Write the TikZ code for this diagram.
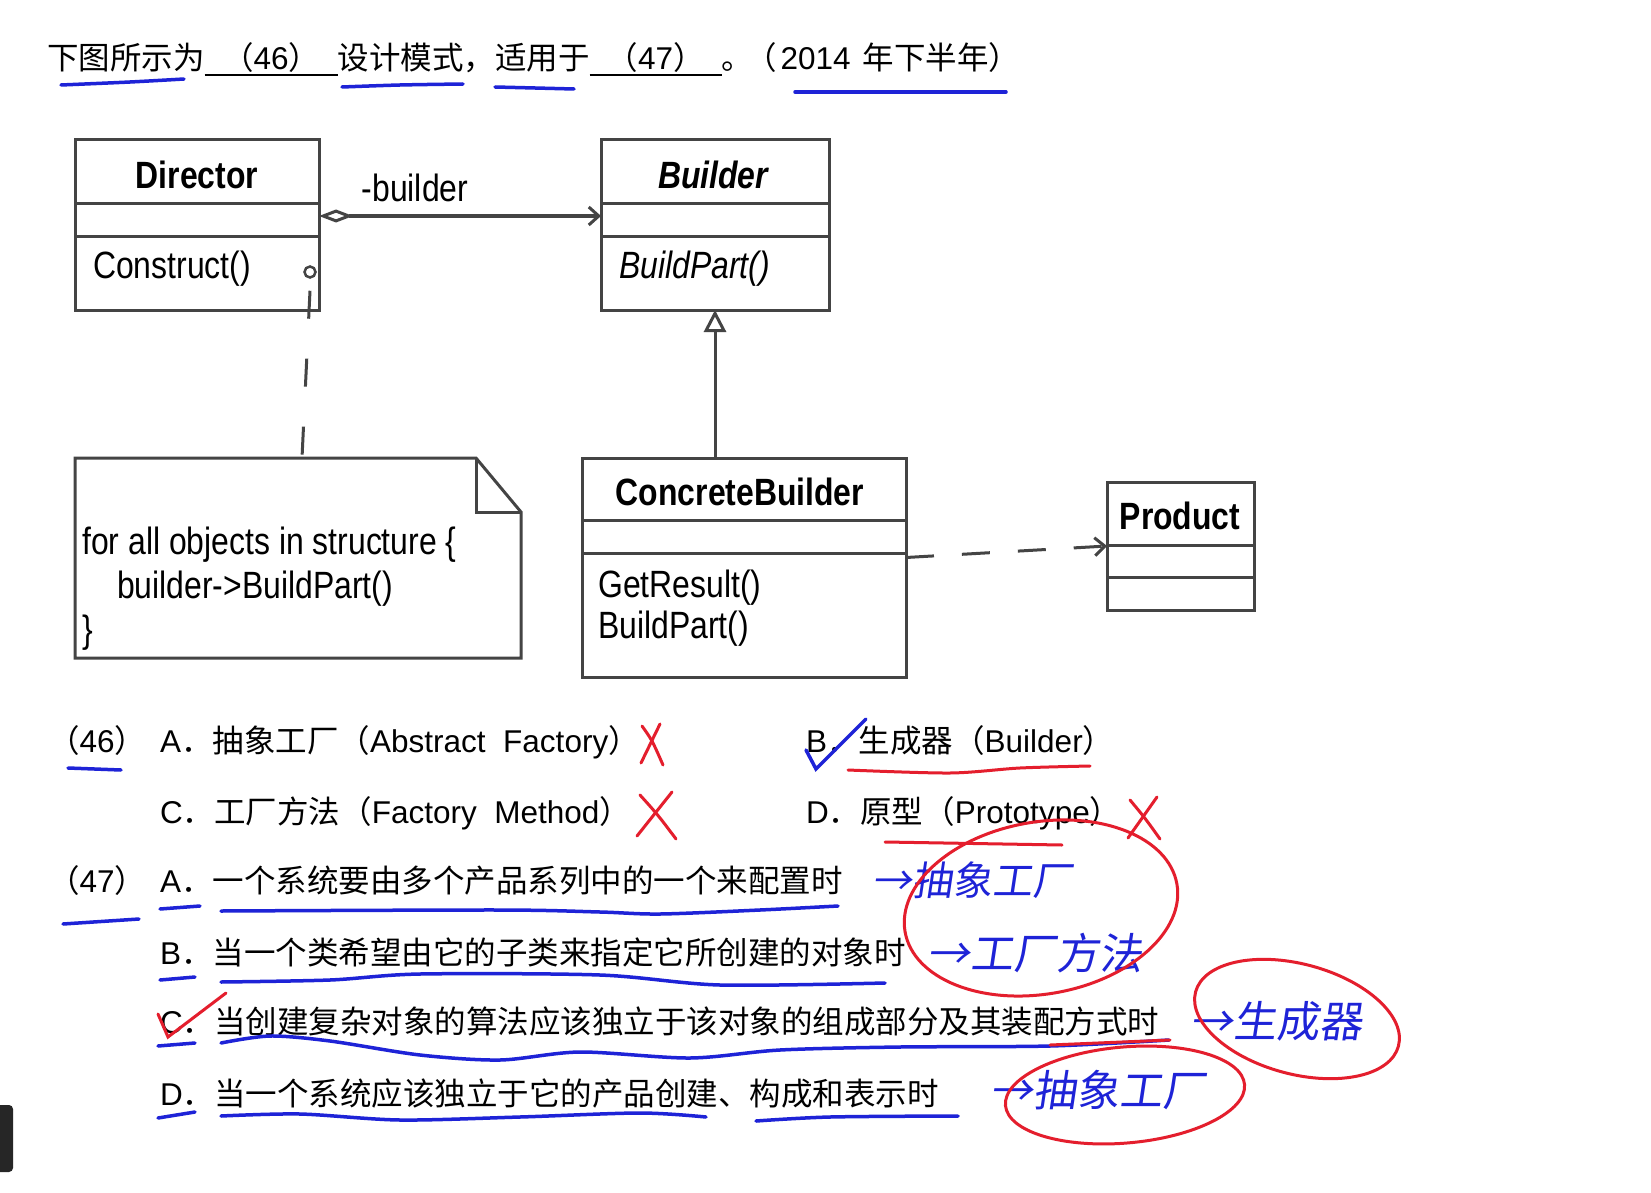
\documentclass[tikz,border=0pt]{standalone}
\usepackage{fontspec}
\usepackage{graphicx}
\setmainfont{Liberation Sans}
\newfontfamily\cjk{Noto Sans CJK SC}
\newfontfamily\hand[FakeSlant=0.15]{Noto Sans CJK SC}
\usetikzlibrary{arrows.meta}

\definecolor{umlgray}{RGB}{68,68,68}
\definecolor{penblue}{RGB}{30,35,215}
\definecolor{penred}{RGB}{228,30,45}

\newcommand\zhtext[1]{{\cjk #1}}
\newcommand\umltext[1]{\scalebox{0.84}[1]{#1}}
\newcommand\fillblank[2]{\rlap{\rule[-6pt]{#1}{2pt}}\makebox[#1]{#2}}

\tikzset{
  umlbox/.style={draw=umlgray, line width=3pt, rectangle, inner sep=0pt, outer sep=0pt, anchor=north west},
  umlsep/.style={draw=umlgray, line width=3pt},
  umlline/.style={draw=umlgray, line width=3pt},
  umlname/.style={font=\fontsize{38}{42}\selectfont\bfseries, inner sep=0pt},
  umlop/.style={font=\fontsize{38}{42}\selectfont, inner sep=0pt, anchor=west},
  qtext/.style={font=\fontsize{31.5}{36}\selectfont, inner sep=0pt, anchor=base west},
  handtext/.style={font=\fontsize{40}{44}\hand, text=penblue, inner sep=0pt, anchor=west},
  bluepen/.style={draw=penblue, line width=3.5pt, line cap=round},
  redpen/.style={draw=penred, line width=3pt, line cap=round},
}

\begin{document}
\begin{tikzpicture}[x=1pt,y=-1pt]
        \useasboundingbox (0,0) rectangle (1651,1193);
        \fill[white] (0,0) rectangle (1651,1193);

        % question heading
        \node[qtext] (title) at (47,70) {\zhtext{下图所示为}\fillblank{133pt}{\zhtext{（}46\zhtext{）}}\zhtext{设计模式，适用于}\fillblank{132pt}{\zhtext{（}47\zhtext{）}}\zhtext{。\hspace{-8pt}（}\hspace{4pt}2014\hspace{12pt}\zhtext{年下半年）}};

        % Director
        \node[umlbox, minimum width=244pt, minimum height=170pt] (director) at (75,140) {};
        \draw[umlsep] ([yshift=-64pt]director.north west) -- ([yshift=-64pt]director.north east);
        \draw[umlsep] ([yshift=-96pt]director.north west) -- ([yshift=-96pt]director.north east);
        \node[umlname] (directorname) at (197,175) {\umltext{Director}};
        \node[umlop] (construct) at (93,269) {\umltext{Construct()}};

        % Builder
        \node[umlbox, minimum width=228pt, minimum height=170pt] (builder) at (601,140) {};
        \draw[umlsep] ([yshift=-64pt]builder.north west) -- ([yshift=-64pt]builder.north east);
        \draw[umlsep] ([yshift=-96pt]builder.north west) -- ([yshift=-96pt]builder.north east);
        \node[umlname] (buildername) at (713,175) {\umltext{\itshape Builder}};
        \node[umlop] (buildpart) at (619,269) {\umltext{\itshape BuildPart()}};

        % ConcreteBuilder
        \node[umlbox, minimum width=324pt, minimum height=219pt] (cbuilder) at (582,458) {};
        \draw[umlsep] ([yshift=-62pt]cbuilder.north west) -- ([yshift=-62pt]cbuilder.north east);
        \draw[umlsep] ([yshift=-95pt]cbuilder.north west) -- ([yshift=-95pt]cbuilder.north east);
        \node[umlname] (cbname) at (740,492) {\umltext{ConcreteBuilder}};
        \node[umlop] (getresult) at (598,588) {\umltext{GetResult()}};
        \node[umlop] (cbbuildpart) at (598,629) {\umltext{BuildPart()}};

        % Product
        \node[umlbox, minimum width=147pt, minimum height=128pt] (product) at (1107,482) {};
        \draw[umlsep] ([yshift=-63pt]product.north west) -- ([yshift=-63pt]product.north east);
        \draw[umlsep] ([yshift=-95pt]product.north west) -- ([yshift=-95pt]product.north east);
        \node[umlname] (productname) at (1180,516) {\umltext{Product}};

        % note
        \draw[umlsep, fill=white] (75,458) -- (476,458) -- (521,512) -- (521,658) -- (75,658) -- cycle;
        \draw[umlsep] (476,458) -- (476,512) -- (521,512);
        \coordinate (notetop) at (302,458);
        \node[umlop] (noteline1) at (82,545) {\umltext{for all objects in structure \{}};
        \node[umlop] (noteline2) at (117,589) {\umltext{builder->BuildPart()}};
        \node[umlop] (noteline3) at (82,633) {\umltext{\}}};

        % relations
        \draw[umlline, {Diamond[open,length=34pt,width=13pt]}-{Straight Barb[length=10pt,width=18pt]}] ([yshift=9pt]director.east) -- ([yshift=9pt]builder.west);
        \node[umlop, anchor=center] (rolename) at (415,188) {\umltext{-builder}};
        \draw[umlline, -{Triangle[open,length=22pt,width=22pt]}] (builder.south |- cbuilder.north) -- (builder.south);
        \draw[umlline, dash pattern=on 28pt off 28pt, -{Straight Barb[length=10pt,width=18pt]}] ([yshift=10pt]cbuilder.east) -- (product.west);
        \node[draw=umlgray, line width=2.5pt, circle, minimum size=11pt, inner sep=0pt, fill=white] (port) at (310,272) {};
        \draw[umlline, dash pattern=on 28pt off 40pt] ([yshift=-12pt]port.south) -- (notetop);

        % options (46)
        \node[qtext] (q46) at (48,752) {\zhtext{（}46\zhtext{）}};
        \node[qtext] (opt46a) at (160,752) {A\zhtext{．抽象工厂（}Abstract\ \ Factory\zhtext{）}};
        \node[qtext] (opt46b) at (806,752) {B\zhtext{．生成器（}Builder\zhtext{）}};
        \node[qtext] (opt46c) at (160,823) {C\zhtext{．工厂方法（}Factory\ \ Method\zhtext{）}};
        \node[qtext] (opt46d) at (806,823) {D\zhtext{．原型（}Prototype\zhtext{）}};

        % options (47)
        \node[qtext] (q47) at (48,892) {\zhtext{（}47\zhtext{）}};
        \node[qtext] (opt47a) at (160,892) {A\zhtext{．一个系统要由多个产品系列中的一个来配置时}};
        \node[qtext] (opt47b) at (160,964) {B\zhtext{．当一个类希望由它的子类来指定它所创建的对象时}};
        \node[qtext] (opt47c) at (160,1033) {C\zhtext{．当创建复杂对象的算法应该独立于该对象的组成部分及其装配方式时}};
        \node[qtext] (opt47d) at (160,1105) {D\zhtext{．当一个系统应该独立于它的产品创建、构成和表示时}};

        % handwritten notes
        \node[handtext] (handa) at (872,880) {→抽象工厂};
        \node[handtext, font=\fontsize{43}{46}\hand] (handb) at (927,953) {→工厂方法};
        \node[handtext, font=\fontsize{43}{46}\hand] (handc) at (1190,1021) {→生成器};
        \node[handtext, font=\fontsize{43}{46}\hand] (handd) at (990,1090) {→抽象工厂};

        % blue underlines
        \draw[bluepen] plot[smooth] coordinates {(61,85) (130,82) (184,79)};
        \draw[bluepen] plot[smooth] coordinates {(342,87) (400,85) (463,84)};
        \draw[bluepen] plot[smooth] coordinates {(495,87) (535,88) (574,89)};
        \draw[bluepen] plot[smooth] coordinates {(795,92) (900,92) (1006,92)};
        \draw[bluepen] (68,768) -- (121,770);
        \draw[bluepen] (63,924) -- (139,919);
        \draw[bluepen] (160,909) -- (200,906);
        \draw[bluepen] plot[smooth] coordinates {(221,911) (500,910) (600,912) (660,914) (760,910) (838,906)};
        \draw[bluepen] (160,980) -- (195,977);
        \draw[bluepen] plot[smooth] coordinates {(221,982) (330,980) (420,974) (600,975) (720,985) (885,983)};
        \draw[bluepen] (158,1046) -- (195,1043);
        \draw[bluepen] plot[smooth] coordinates {(221,1043) (270,1036) (330,1041) (420,1055) (500,1060) (580,1052) (690,1058) (780,1050) (900,1047) (1050,1046) (1169,1040)};
        \draw[bluepen] (158,1118) -- (195,1112);
        \draw[bluepen] plot[smooth] coordinates {(221,1116) (300,1114) (400,1120) (520,1117) (640,1113) (706,1117)};
        \draw[bluepen] plot[smooth] coordinates {(756,1121) (830,1117) (958,1116)};
        \draw[bluepen] (806,750) -- (816,769) -- (866,719);

        % red marks
        \draw[redpen] (642,726) .. controls (652,740) .. (663,765);
        \draw[redpen] (660,724) -- (641,763);
        \draw[redpen] (640,795) .. controls (658,815) .. (676,839);
        \draw[redpen] (672,792) -- (637,836);
        \draw[redpen] (1130,800) .. controls (1145,818) .. (1160,839);
        \draw[redpen] (1157,797) -- (1128,838);
        \draw[redpen] plot[smooth] coordinates {(848,770) (950,773) (1020,768) (1090,766)};
        \draw[redpen] (885,842) -- (1062,845);
        \draw[redpen] (1050,1045) -- (1170,1040);
        \draw[redpen] (158,1014) -- (168,1037) -- (226,993);
        \draw[redpen] (1041,908) ellipse [x radius=138, y radius=86, rotate=10];
        \draw[redpen] (1297,1019) ellipse [x radius=105, y radius=55, rotate=-15];
        \draw[redpen] (1125,1095) ellipse [x radius=120, y radius=48, rotate=5];

        % screen edge
        \fill[black!85, rounded corners=4pt] (-10,1105) rectangle (13,1172);
\end{tikzpicture}
\end{document}
